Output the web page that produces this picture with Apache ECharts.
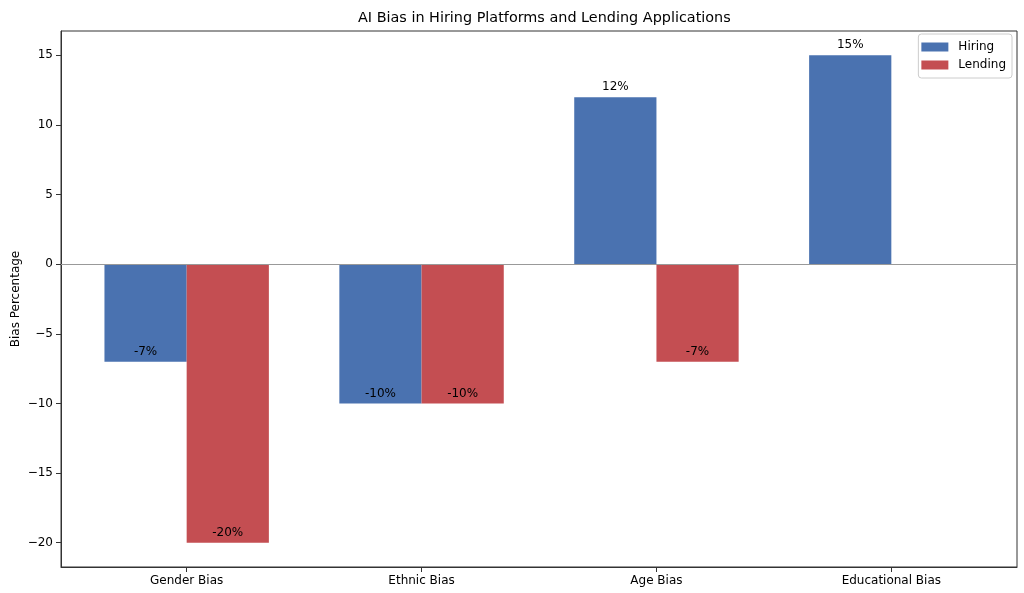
<!DOCTYPE html>
<html>
<head>
<meta charset="utf-8">
<script src="https://cdn.jsdelivr.net/npm/echarts@6/dist/echarts.min.js"></script>
<style>html,body{margin:0;padding:0;background:#fff;}#c{width:1024px;height:593px;}</style>
</head>
<body>
<div id="c"></div>
<script>
const categories = ['Gender Bias', 'Ethnic Bias', 'Age Bias', 'Educational Bias'];
const hiring = [-7, -10, 12, 15];
const lending = [-20, -10, -7, 0];
const yTicks = [-20, -15, -10, -5, 0, 5, 10, 15];
const xTicks = [0, 1, 2, 3];

const BAR_W = 0.35;
const FONT = 'DejaVu Sans';
const FS = 12;

function makeRender(offset) {
  return function (params, api) {
    const cx = api.value(0) + offset;
    const v = api.value(1);
    const children = [];
    if (v !== 0) {
      const p0 = api.coord([cx - BAR_W / 2, 0]);
      const p1 = api.coord([cx + BAR_W / 2, v]);
      children.push({
        type: 'rect',
        shape: {
          x: Math.min(p0[0], p1[0]),
          y: Math.min(p0[1], p1[1]),
          width: Math.abs(p1[0] - p0[0]),
          height: Math.abs(p1[1] - p0[1])
        },
        style: { fill: api.visual('color') }
      });
      const pt = api.coord([cx, v]);
      children.push({
        type: 'text',
        x: pt[0],
        y: pt[1] - 4,
        style: {
          text: v + '%',
          fill: '#000',
          font: FS + 'px "' + FONT + '"',
          align: 'center',
          verticalAlign: 'bottom'
        }
      });
    }
    return { type: 'group', children: children };
  };
}

const chart = echarts.init(document.getElementById('c'), null, { renderer: 'canvas' });
const axisColor = '#333';
chart.setOption({
  animation: false,
  backgroundColor: '#fff',
  title: {
    text: 'AI Bias in Hiring Platforms and Lending Applications',
    left: 353,
    top: 6,
    textStyle: { fontFamily: FONT, fontSize: 14.4, fontWeight: 'normal', color: '#000' }
  },
  legend: {
    orient: 'vertical',
    right: 12,
    top: 34,
    padding: [7, 6, 7, 3],
    itemWidth: 27,
    itemHeight: 9,
    itemGap: 6,
    borderColor: '#ccc',
    borderWidth: 1,
    borderRadius: 3,
    backgroundColor: 'rgba(255,255,255,0.8)',
    textStyle: { fontFamily: FONT, fontSize: FS, color: '#000', padding: [0, 0, 0, 5] },
    data: [{ name: 'Hiring', icon: 'rect' }, { name: 'Lending', icon: 'rect' }]
  },
  grid: {
    left: 61, right: 7, top: 31, bottom: 26,
    outerBoundsMode: 'none',
    containLabel: false,
    show: true, borderColor: axisColor, borderWidth: 1, backgroundColor: 'transparent'
  },
  xAxis: {
    type: 'value',
    min: -0.535,
    max: 3.535,
    axisLine: { show: true, onZero: false, lineStyle: { color: axisColor } },
    axisTick: { show: true, length: 5, customValues: xTicks, lineStyle: { color: axisColor } },
    axisLabel: {
      customValues: xTicks,
      margin: 8,
      fontFamily: FONT, fontSize: FS, color: '#000',
      formatter: function (v) { return categories[Math.round(v)]; }
    },
    splitLine: { show: false }
  },
  yAxis: {
    type: 'value',
    min: -21.75,
    max: 16.75,
    name: 'Bias Percentage',
    nameLocation: 'middle',
    nameGap: 39,
    nameMoveOverlap: false,
    nameTextStyle: { fontFamily: FONT, fontSize: FS, color: '#000' },
    axisLine: { show: true, onZero: false, lineStyle: { color: axisColor } },
    axisTick: { show: true, length: 5, customValues: yTicks, lineStyle: { color: axisColor } },
    axisLabel: {
      customValues: yTicks,
      margin: 8,
      fontFamily: FONT, fontSize: FS, color: '#000',
      formatter: function (v) { return String(v).replace('-', '\u2212'); }
    },
    splitLine: { show: false }
  },
  series: [
    {
      name: 'Hiring',
      type: 'custom',
      itemStyle: { color: '#4a72b0' },
      renderItem: makeRender(-BAR_W / 2),
      data: hiring.map((v, i) => [i, v]),
      z: 3,
      markLine: {
        silent: true,
        symbol: 'none',
        label: { show: false },
        lineStyle: { color: '#999', width: 1, type: 'solid' },
        data: [{ yAxis: 0 }]
      }
    },
    {
      name: 'Lending',
      type: 'custom',
      itemStyle: { color: '#c44e52' },
      renderItem: makeRender(BAR_W / 2),
      data: lending.map((v, i) => [i, v]),
      z: 3
    }
  ]
});
</script>
</body>
</html>
